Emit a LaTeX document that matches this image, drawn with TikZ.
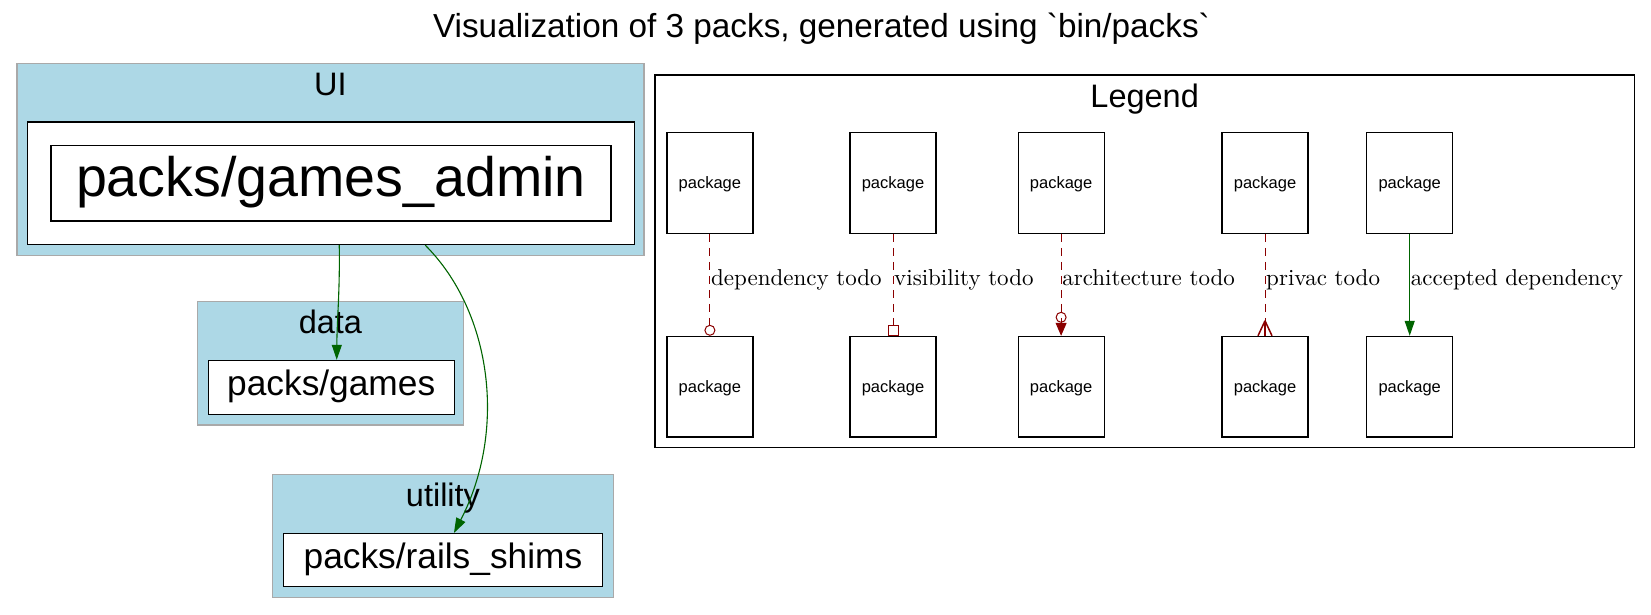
\documentclass[tikz,border=0pt]{standalone}
\usepackage{fontspec}
\newfontfamily\gvsans[Ligatures=TeXOff]{Liberation Sans}
\newfontfamily\gvserif{lmroman10-regular.otf}
\usetikzlibrary{arrows.meta}
\definecolor{gvblue}{RGB}{173,216,230}
\definecolor{gvgray}{RGB}{169,169,169}
\definecolor{gvred}{RGB}{139,0,0}
\definecolor{gvgreen}{RGB}{0,100,0}
\tikzset{
  cluster/.style={draw=gvgray, fill=gvblue, line width=1.5pt, inner sep=0pt},
  packwrap/.style={draw=black, fill=white, line width=1.2pt, inner sep=0pt},
  packbox/.style={draw=black, fill=white, line width=1.2pt, inner sep=0pt, font=\gvsans\fontsize{35.3}{38}\selectfont, text height=23pt, text depth=7pt},
  bigpack/.style={packbox, font=\gvsans\fontsize{55.6}{60}\selectfont, text height=38.2pt, text depth=11pt},
  legendpack/.style={packbox, minimum width=86pt, minimum height=100.6pt, font=\gvsans\fontsize{16.5}{18}\selectfont, text height=14.1pt, text depth=3.5pt},
  clusterlabel/.style={anchor=base, inner sep=0pt, font=\gvsans\fontsize{32.5}{35}\selectfont},
  edgelabel/.style={anchor=base west, inner sep=1pt, font=\gvserif\fontsize{23}{25}\selectfont},
  okdep/.style={draw=gvgreen, line width=1.1pt, -{Triangle[length=15pt,width=10pt]}},
  todo/.style={draw=gvred, line width=1pt, dash pattern=on 8pt off 6pt},
  crowleg/.style={draw=gvred, line width=1.5pt},
}

\begin{document}
\begin{tikzpicture}[x=1pt, y=-1pt]
\useasboundingbox (0,0) rectangle (1651,615);
\node[anchor=base, inner sep=0pt, font=\gvsans\fontsize{33.3}{36}\selectfont] (title) at (821.5,37.3) {Visualization of 3 packs, generated using `bin/packs`};
\node[cluster, minimum width=627.2pt, minimum height=192.1pt] (ui) at (330.4,159.65) {};
\node[clusterlabel] (uilabel) at (330.4,95.4) {UI};
\node[packwrap, minimum width=606.9pt, minimum height=122.6pt] (adminwrap) at (331.25,183.3) {};
\node[bigpack, minimum width=560pt, minimum height=75.3pt] (admin) at (331,183.35) {packs/games\_admin};
\node[cluster, minimum width=266pt, minimum height=123.6pt] (data) at (330.4,363.2) {};
\node[clusterlabel] (datalabel) at (330.4,333) {data};
\node[packbox, minimum width=245.8pt, minimum height=54.2pt] (games) at (331.2,387.5) {packs/games};
\node[cluster, minimum width=341.3pt, minimum height=123.2pt] (utility) at (442.95,535.9) {};
\node[clusterlabel] (utilitylabel) at (442.95,506) {utility};
\node[packbox, minimum width=319.5pt, minimum height=53.2pt] (rails) at (442.95,560.2) {packs/rails\_shims};
\draw[okdep] ([xshift=8pt]adminwrap.south) .. controls (340,290) and (337,320) .. ([xshift=5.5pt]games.north);
\draw[okdep] ([xshift=94pt]adminwrap.south) .. controls (492.2,312.2) and (506.9,430.7) .. ([xshift=11pt]rails.north);
\node[draw=black, fill=white, line width=1.2pt, inner sep=0pt, minimum width=979.3pt, minimum height=372.7pt] (legend) at (1144.65,261.35) {};
\node[clusterlabel] (legendlabel) at (1144.65,108) {Legend};
\node[legendpack] (deptop) at (709.9,183) {package};
\node[legendpack] (depbot) at (709.9,386.7) {package};
\node[legendpack] (vistop) at (893,183) {package};
\node[legendpack] (visbot) at (893,386.7) {package};
\node[legendpack] (archtop) at (1061.1,183) {package};
\node[legendpack] (archbot) at (1061.1,386.7) {package};
\node[legendpack] (privtop) at (1265,183) {package};
\node[legendpack] (privbot) at (1265,386.7) {package};
\node[legendpack] (acctop) at (1409.7,183) {package};
\node[legendpack] (accbot) at (1409.7,386.7) {package};
\draw[todo, -{Circle[open,length=11pt,width=11pt]}] (deptop) -- (depbot);
\draw[todo, -{Square[open,length=11pt,width=11pt]}] (vistop) -- (visbot);
\draw[todo, -{Circle[open,length=11pt,width=11pt] Triangle[length=13pt,width=11pt]}] (archtop) -- (archbot);
\draw[todo] (privtop) -- (privbot);
\draw[crowleg] ([yshift=15pt]privbot.north) -- ([xshift=-7pt]privbot.north);
\draw[crowleg] ([yshift=15pt]privbot.north) -- ([xshift=7pt]privbot.north);
\draw[crowleg] ([yshift=15pt]privbot.north) -- (privbot.north);
\draw[okdep] (acctop) -- (accbot);
\node[edgelabel] (deplabel) at (709.9,285) {dependency todo};
\node[edgelabel] (vislabel) at (893,285) {visibility todo};
\node[edgelabel] (archlabel) at (1061.1,285) {architecture todo};
\node[edgelabel] (privlabel) at (1265,285) {privac todo};
\node[edgelabel] (acclabel) at (1409.7,285) {accepted dependency};
\end{tikzpicture}
\end{document}
